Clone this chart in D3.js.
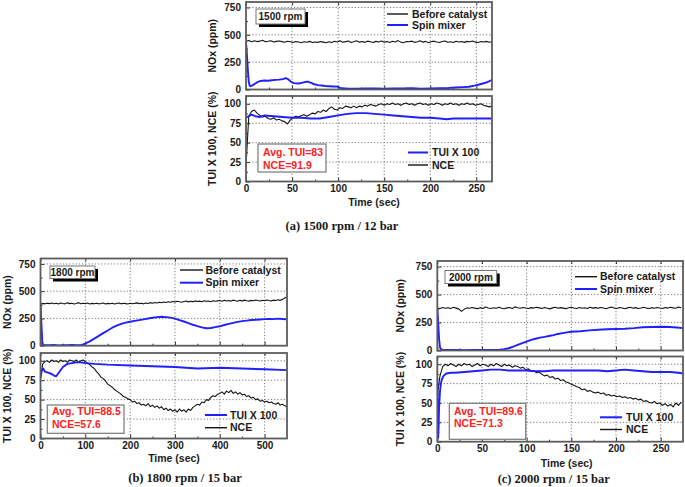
<!DOCTYPE html>
<html><head><meta charset="utf-8">
<script src="https://cdn.jsdelivr.net/npm/d3@7"></script>
<style>
body{margin:0;background:#fff}
svg{display:block}
text{font-family:Arial,"Liberation Sans",sans-serif;font-weight:bold;fill:#1a1a1a}
</style>
</head><body>
<svg id="chart" width="685" height="487"></svg>
<script>
// ---------------- DATA ----------------
// Panel (a) 1500 rpm / 12 bar
const aStep = 3; // seconds between samples of noisy series
const aBefore = [440,448,436,445,438,442,450,437,441,446,435,440,444,438,432,441,436,430,438,434,
  428,437,432,440,429,435,431,438,433,427,436,430,441,434,446,432,438,443,430,437,
  445,433,439,431,442,436,429,440,434,444,432,438,430,441,435,447,433,428,439,436,
  442,431,437,445,433,440,428,436,442,434,430,439,444,432,437,429,441,435,438,431,
  440,436,443,433,429,438,434,440,432,436];
const aSpinT = [0,1,2,3,4,5,7,10,13,16,20,24,28,32,36,40,43,46,49,52,56,60,64,67,70,74,78,82,86,90,95,99,102,106,110,120,130,140,150,160,170,180,190,200,210,220,228,236,242,248,254,258,262,265,267];
const aSpinV = [430,320,180,70,35,30,38,55,70,78,82,80,85,88,90,95,105,92,70,58,55,60,68,72,62,48,40,36,32,30,28,26,15,12,10,8,10,9,8,10,9,11,8,10,12,14,18,22,25,35,48,57,68,80,88];
const aTuiT = [0,3,6,10,15,20,30,40,50,60,70,80,90,100,110,120,130,140,150,160,170,180,190,200,210,218,225,235,245,255,267];
const aTuiV = [82,84,86,84,83,85,84,83,82,82,81,81,83,85,87,88,88,87,86,85,84,83,82,82,81,80,81,81,81,81,81];
const aNce = [20,84,90,92,88,85,83,84,81,80,82,79,80,78,77,74,79,82,84,83,
  85,86,84,86,88,87,90,89,92,90,94,96,93,92,95,94,97,96,95,97,
  95,97,96,98,97,99,98,97,99,100,98,100,99,101,99,100,98,100,101,99,
  100,98,100,101,99,100,98,100,99,101,100,98,100,99,101,99,100,98,100,99,
  101,99,100,98,99,100,98,97,96,97];

// Panel (b) 1800 rpm / 15 bar
const bStep = 5;
const bBefore = [380,388,384,390,386,392,385,389,383,391,387,384,393,386,390,382,388,395,385,389,
  386,391,383,388,385,390,384,387,392,383,388,385,390,382,387,391,384,389,386,383,
  390,385,388,393,386,389,384,392,387,395,390,396,392,399,394,401,397,404,398,405,
  401,408,403,399,406,410,402,407,404,411,405,409,403,412,407,410,404,413,408,411,
  414,408,417,410,415,409,418,412,407,416,411,418,413,409,416,412,419,414,410,417,
  413,420,415,411,418,414,421,416,425,438,450];
const bSpinT = [0,2,4,6,10,20,30,40,50,60,70,80,90,95,100,110,120,130,140,150,160,170,180,190,200,210,220,230,240,250,260,270,280,290,300,310,320,330,340,350,360,370,380,390,400,410,420,430,440,450,460,470,480,490,500,510,520,530,540,550];
const bSpinV = [390,200,30,8,5,4,6,3,5,4,6,5,8,12,20,40,65,90,115,140,165,185,200,212,220,228,235,242,250,256,262,265,262,258,248,235,222,208,192,180,168,160,162,170,178,190,200,210,218,225,230,236,238,241,244,246,244,248,245,243];
const bTuiT = [0,3,6,10,15,20,25,30,35,40,50,60,70,80,90,100,120,150,200,250,300,350,400,450,500,550];
const bTuiV = [78,88,90,86,85,84,83,81,80,84,92,96,97,98,98,97,96,95,94,93,92,90,91,90,89,88];
const bNce = [78,96,99,100,98,101,99,100,98,101,99,100,98,101,100,99,101,98,100,101,
  99,97,95,92,90,86,83,79,77,74,70,68,66,63,61,59,57,54,53,51,
  50,47,48,45,46,43,44,42,45,41,43,40,42,39,41,37,39,36,38,35,
  37,34,38,35,37,34,38,36,40,42,44,43,47,46,50,49,53,55,54,57,
  58,60,57,61,59,62,58,60,57,59,56,57,54,55,52,53,50,51,48,49,
  47,48,46,47,45,44,46,43,44,42,41];

// Panel (c) 2000 rpm / 15 bar
const cStep = 3;
const cBefore = [380,376,384,378,382,375,386,379,372,350,368,381,377,385,379,374,383,376,388,380,
  375,382,378,386,377,373,381,384,376,390,382,378,385,380,376,383,379,387,381,375,
  384,378,372,381,386,377,383,379,374,382,387,380,376,384,378,382,375,386,379,383,
  377,385,380,374,382,388,379,376,384,380,373,381,386,378,383,376,380,387,379,375,
  383,378,385,380,376,384,379,387,381,377,388,382];
const cSpinT = [0,1,2,3,4,6,10,20,30,40,50,60,70,75,80,85,90,95,100,105,110,115,120,125,130,135,140,145,150,160,170,180,190,200,210,220,230,240,250,260,268,275];
const cSpinV = [380,250,100,30,12,6,4,5,3,6,4,5,8,12,20,35,50,65,80,95,105,115,122,130,138,148,155,162,168,172,180,185,190,192,195,200,208,210,212,210,205,200];
const cTuiT = [0,0.5,1,1.5,2,3,4,5,7,10,15,20,30,40,50,60,70,80,90,100,110,120,130,140,150,160,170,180,190,200,210,220,230,240,250,260,270,275];
const cTuiV = [82,40,5,20,45,65,75,80,85,88,89,89,90,91,92,93,93,92,92,92,91,91,92,92,92,92,92,92,91,92,93,92,91,90,90,90,89,88];
const cNce = [60,85,97,100,98,101,99,97,100,98,101,99,100,97,99,101,98,100,99,97,
  100,98,101,99,97,100,98,99,96,98,97,95,96,93,94,91,92,89,90,87,
  85,86,83,84,81,82,79,80,77,76,74,73,71,70,67,68,65,66,64,63,
  64,62,63,60,61,59,60,58,59,57,58,56,57,55,56,54,55,52,53,51,
  50,52,49,50,47,49,46,48,45,50,47,51];

// Labels
const topTicks = [0,250,500,750];
const botTicks = [0,25,50,75,100];
const legendTop = ["Before catalyst","Spin mixer"];
const legendBot = ["TUI X 100","NCE"];

// ---------------- DRAW ----------------
const svg = d3.select("#chart");
const BLUE = "#1f1fff", BLACK = "#151515", RED = "#ff2222";

function series(step, vals){ return vals.map((v,i)=>[i*step, v]); }
function pairs(ts, vs){ return ts.map((t,i)=>[t, vs[i]]); }

function drawPlot(g, x, y, yTickVals, yMinorVals, xTickVals, xMinorVals, showXLabels, id){
  const [x0,x1] = x.range(), [yb,yt] = y.range();
  g.append("g").selectAll("line").data(yTickVals.filter(v=>v>0)).join("line")
    .attr("x1",x0).attr("x2",x1).attr("y1",d=>y(d)).attr("y2",d=>y(d))
    .attr("stroke","#7a7a7a").attr("stroke-width",1).attr("stroke-dasharray","1.2,2");
  g.append("g").selectAll("line").data(xTickVals.filter(v=>v>0 && v<x.domain()[1])).join("line")
    .attr("y1",yb).attr("y2",yt).attr("x1",d=>x(d)).attr("x2",d=>x(d))
    .attr("stroke","#7a7a7a").attr("stroke-width",1).attr("stroke-dasharray","1.2,2");
  g.append("clipPath").attr("id",id).append("rect")
    .attr("x",x0).attr("y",yt).attr("width",x1-x0).attr("height",yb-yt);
  const ya = d3.axisLeft(y).tickValues(yTickVals).tickSize(-4).tickPadding(5);
  const ag = g.append("g").attr("transform",`translate(${x0},0)`).call(ya);
  ag.select(".domain").remove();
  ag.selectAll("text").attr("font-size",10).style("font-weight","bold").attr("fill","#1a1a1a");
  ag.selectAll("line").attr("stroke","#333");
  const ym = d3.axisLeft(y).tickValues(yMinorVals).tickSize(-2).tickFormat("");
  const amg = g.append("g").attr("transform",`translate(${x0},0)`).call(ym);
  amg.select(".domain").remove(); amg.selectAll("line").attr("stroke","#333");

  const xa = d3.axisBottom(x).tickValues(xTickVals).tickSize(-4).tickPadding(3);
  if(!showXLabels) xa.tickFormat("");
  const xg = g.append("g").attr("transform",`translate(0,${yb})`).call(xa);
  xg.select(".domain").remove();
  xg.selectAll("text").attr("font-size",10).style("font-weight","bold").attr("fill","#1a1a1a");
  xg.selectAll("line").attr("stroke","#333");
  const xm = d3.axisBottom(x).tickValues(xMinorVals).tickSize(-2).tickFormat("");
  const xmg = g.append("g").attr("transform",`translate(0,${yb})`).call(xm);
  xmg.select(".domain").remove(); xmg.selectAll("line").attr("stroke","#333");
  const xtop = d3.axisTop(x).tickValues(xTickVals).tickSize(-3).tickFormat("");
  const xtg = g.append("g").attr("transform",`translate(0,${yt})`).call(xtop);
  xtg.select(".domain").remove(); xtg.selectAll("line").attr("stroke","#333");
}

function frame(g, x, y){
  const [x0,x1] = x.range(), [yb,yt] = y.range();
  g.append("rect").attr("x",x0).attr("y",yt).attr("width",x1-x0).attr("height",yb-yt)
    .attr("fill","none").attr("stroke","#5c5c5c").attr("stroke-width",1.8);
}

function addLine(g, x, y, data, color, w, clipId){
  g.append("path").datum(data)
    .attr("clip-path",`url(#${clipId})`)
    .attr("fill","none").attr("stroke",color).attr("stroke-width",w)
    .attr("stroke-linejoin","round")
    .attr("d", d3.line().x(d=>x(d[0])).y(d=>y(d[1])));
}

function legend(g, L, names, colors, widths){
  names.forEach((n,i)=>{
    const yy = L.rows[i];
    g.append("line").attr("x1",L.lx0).attr("x2",L.lx1).attr("y1",yy).attr("y2",yy)
      .attr("stroke",colors[i]).attr("stroke-width",widths[i]);
    g.append("text").attr("x",L.tx).attr("y",yy).attr("dy","0.36em")
      .attr("font-size",10.5).text(n);
  });
}

function rpmBox(g, B, label){
  g.append("rect").attr("x",B.x+3).attr("y",B.y+3).attr("width",B.w).attr("height",B.h).attr("fill","#000");
  g.append("rect").attr("x",B.x).attr("y",B.y).attr("width",B.w).attr("height",B.h)
    .attr("fill","#fff").attr("stroke","#777").attr("stroke-width",1);
  g.append("text").attr("x",B.x+B.w/2).attr("y",B.y+B.h/2).attr("dy","0.36em")
    .attr("text-anchor","middle").attr("font-size",10).text(label);
}

function redBox(g, R, lines){
  g.append("rect").attr("x",R.x).attr("y",R.y).attr("width",R.w).attr("height",R.h)
    .attr("fill","#fff").attr("stroke","#777").attr("stroke-width",1.2);
  lines.forEach((s,i)=>{
    g.append("text").attr("x",R.tx).attr("y",R.rows[i]).attr("dy","0.36em")
      .attr("font-size",10.5).style("fill",RED).text(s);
  });
}

function panel(P){
  const g = svg.append("g");
  const x = d3.scaleLinear().domain([0,P.xmax]).range([P.left,P.right]);
  const yT = d3.scaleLinear().domain([0,800]).range([P.tb,P.tt]);
  const yB = d3.scaleLinear().domain([0,110]).range([P.bb,P.bt]);
  const xMinor = d3.range(P.xminor, P.xmax, P.xminor*2);
  drawPlot(g, x, yT, topTicks, [125,375,625], P.xticks, xMinor, false, P.id+"t");
  drawPlot(g, x, yB, botTicks, [12.5,37.5,62.5,87.5], P.xticks, xMinor, true, P.id+"b");
  addLine(g, x, yT, series(P.step, P.before), BLACK, 1.1, P.id+"t");
  addLine(g, x, yT, pairs(P.spinT, P.spinV), BLUE, 1.9, P.id+"t");
  addLine(g, x, yB, series(P.step, P.nce), BLACK, 1.1, P.id+"b");
  addLine(g, x, yB, pairs(P.tuiT, P.tuiV), BLUE, 1.9, P.id+"b");
  frame(g, x, yT); frame(g, x, yB);
  legend(g, P.legT, legendTop, [BLACK, BLUE], [1.4, 2]);
  legend(g, P.legB, legendBot, [BLUE, BLACK], [2, 1.4]);
  rpmBox(g, P.rpm, P.rpmLabel);
  redBox(g, P.red, P.redLines);
  g.append("text").attr("transform",`translate(${P.ytx},${(P.tt+P.tb)/2}) rotate(-90)`)
    .attr("text-anchor","middle").attr("dy","0.36em").attr("font-size",10.5).text("NOx (ppm)");
  g.append("text").attr("transform",`translate(${P.ytx},${(P.bt+P.bb)/2}) rotate(-90)`)
    .attr("text-anchor","middle").attr("dy","0.36em").attr("font-size",10.5).text("TUI X 100, NCE (%)");
  g.append("text").attr("x",P.xtx).attr("y",P.xty).attr("dy","0.36em")
    .attr("text-anchor","middle").attr("font-size",10.5).text("Time (sec)");
  g.append("text").attr("x",P.capx).attr("y",P.capy).attr("dy","0.36em")
    .attr("text-anchor","middle").attr("font-size",12.5)
    .style("font-family","'Liberation Serif','Times New Roman',serif").text(P.caption);
}

panel({id:"a", xmax:267, left:246, right:492, tt:2, tb:89.5, bt:96, bb:181.5,
  xticks:[0,50,100,150,200,250], xminor:25, step:aStep,
  before:aBefore, spinT:aSpinT, spinV:aSpinV, nce:aNce, tuiT:aTuiT, tuiV:aTuiV,
  legT:{lx0:387,lx1:408,tx:412,rows:[14,25]}, legB:{lx0:408,lx1:428,tx:432,rows:[152.5,165]},
  rpm:{x:256,y:9,w:49,h:15}, rpmLabel:"1500 rpm",
  red:{x:258,y:144,w:68,h:28,tx:263,rows:[152.3,165]}, redLines:["Avg. TUI=83","NCE=91.9"],
  ytx:212, xtx:374, xty:202, capx:342, capy:225, caption:"(a) 1500 rpm / 12 bar"});

panel({id:"b", xmax:550, left:40.5, right:287, tt:258.5, tb:345.7, bt:353, bb:438.5,
  xticks:[0,100,200,300,400,500], xminor:50, step:bStep,
  before:bBefore, spinT:bSpinT, spinV:bSpinV, nce:bNce, tuiT:bTuiT, tuiV:bTuiV,
  legT:{lx0:180,lx1:203,tx:205.5,rows:[270,282.7]}, legB:{lx0:205,lx1:227,tx:230,rows:[415,427.7]},
  rpm:{x:50,y:266,w:45,h:12.5}, rpmLabel:"1800 rpm",
  red:{x:47.3,y:405,w:76.7,h:28.3,tx:52,rows:[411.7,424.5]}, redLines:["Avg. TUI=88.5","NCE=57.6"],
  ytx:7.5, xtx:174, xty:458, capx:185, capy:477, caption:"(b) 1800 rpm / 15 bar"});

panel({id:"c", xmax:275, left:437.3, right:683, tt:261, tb:350.5, bt:356.5, bb:441.7,
  xticks:[0,50,100,150,200,250], xminor:25, step:cStep,
  before:cBefore, spinT:cSpinT, spinV:cSpinV, nce:cNce, tuiT:cTuiT, tuiV:cTuiV,
  legT:{lx0:575,lx1:597,tx:600,rows:[276.7,289]}, legB:{lx0:600,lx1:622,tx:626,rows:[417.3,429.5]},
  rpm:{x:445,y:270.5,w:51.7,h:13}, rpmLabel:"2000 rpm",
  red:{x:449.3,y:403.3,w:76.4,h:36,tx:454,rows:[411.7,423.5]}, redLines:["Avg. TUI=89.6","NCE=71.3"],
  ytx:400, xtx:566.7, xty:463, capx:553.7, capy:478, caption:"(c) 2000 rpm / 15 bar"});
</script>
</body></html>
